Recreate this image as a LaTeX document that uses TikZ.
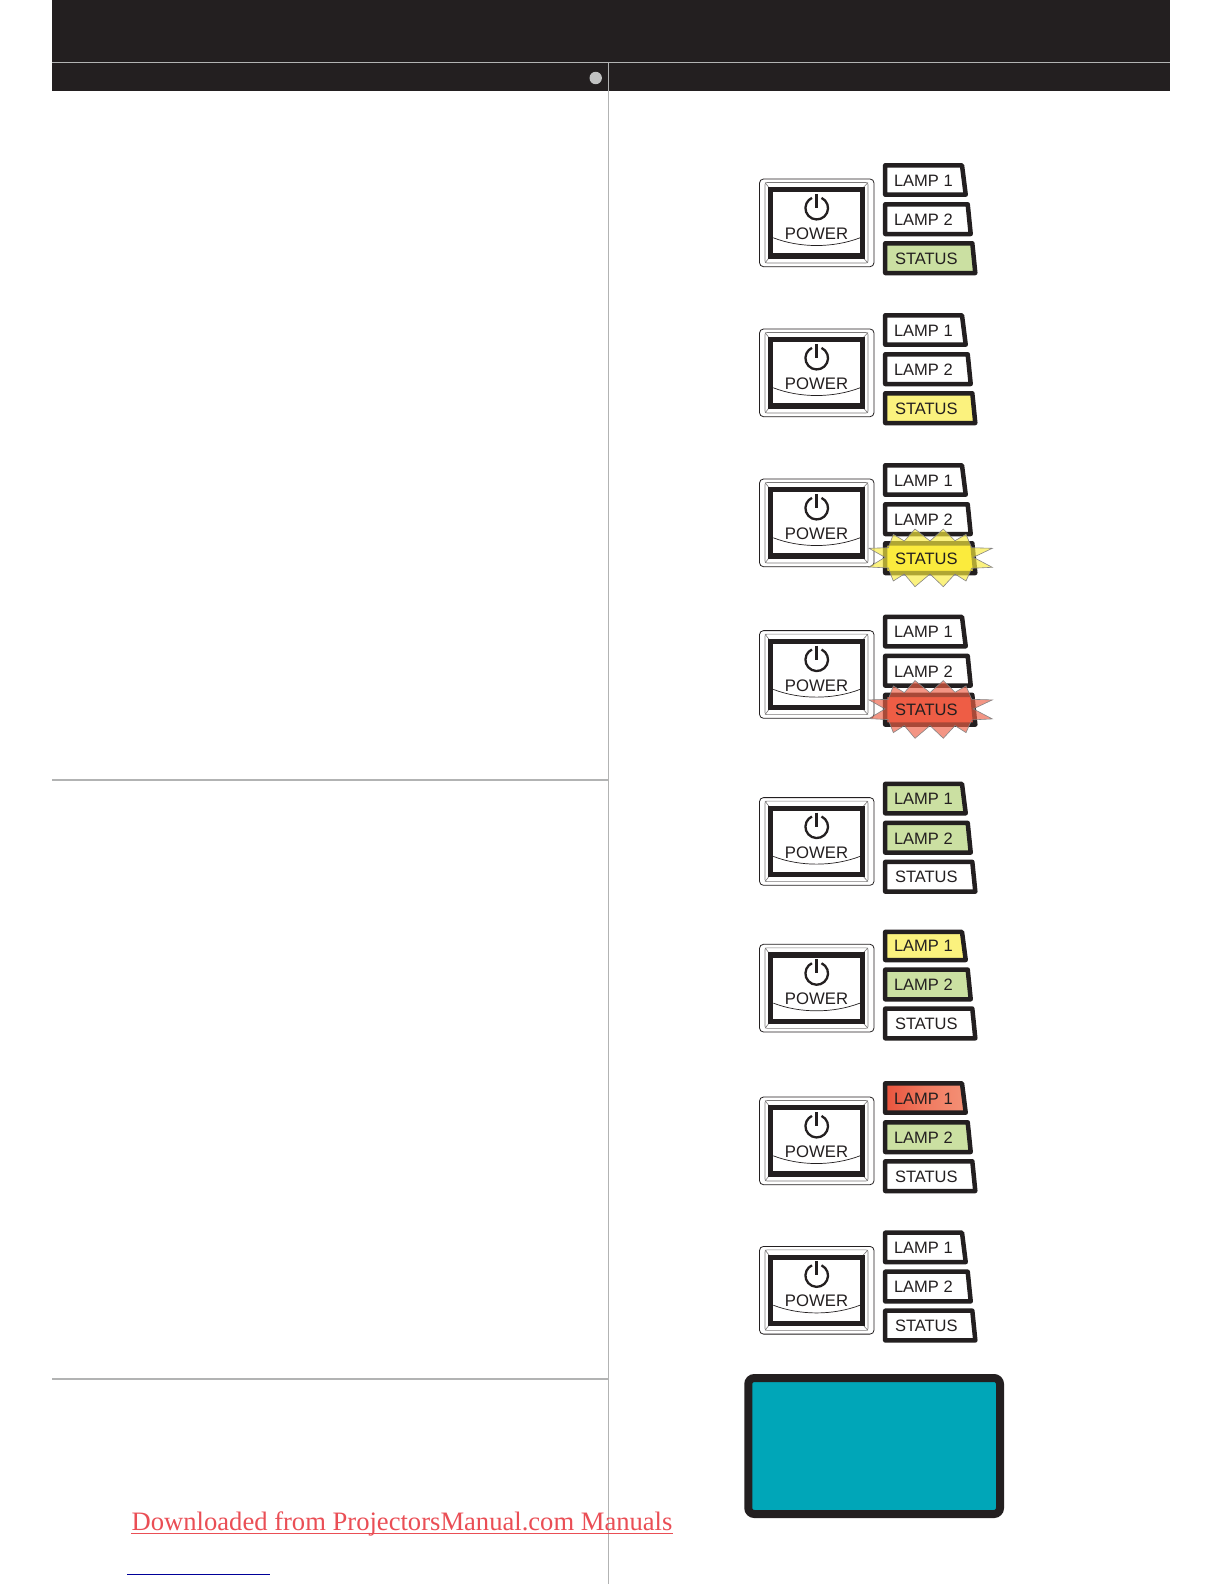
\documentclass[tikz,border=0pt]{standalone}
\usepackage{fontspec}
\setmainfont{Liberation Sans}
\newfontfamily\serifdl{Liberation Serif}
\definecolor{ink}{HTML}{231F20}
\definecolor{rulegray}{HTML}{B2B3B3}
\definecolor{lgreen}{HTML}{CBE0A2}
\definecolor{lyellow}{HTML}{FBF27E}
\definecolor{syellow}{HTML}{FFEA3C}
\definecolor{sred}{HTML}{EE5A46}
\definecolor{burstY}{HTML}{FAEC3E}
\definecolor{burstR}{HTML}{EE5F45}
\definecolor{tealfill}{HTML}{00A6B8}
\definecolor{dlred}{HTML}{EA4E55}
\definecolor{glowA}{HTML}{E9533D}
\definecolor{glowB}{HTML}{F49176}
\definecolor{glowC}{HTML}{F07A60}
\tikzset{
  lampbox/.style={draw=ink,line width=2.25pt,line join=round},
  lamptext/.style={anchor=west,inner sep=0pt,text=ink,font=\fontsize{8.25}{9}\selectfont},
  powertext/.style={anchor=center,inner sep=0pt,text=ink,font=\fontsize{8.35}{9}\selectfont},
  thinframe/.style={draw=ink,line width=0.4pt},
  fineframe/.style={draw=ink!60,line width=0.3pt},
  burstline/.style={draw=ink!55,line width=0.3pt,fill opacity=0.66},
  redglow/.style={left color=glowA,right color=glowB,middle color=glowC},
}
% args: row offset, row id, lamp1 paint, lamp2 paint, status paint, lamp1 top tweak
\newcommand\panelrow[6]{%
  \begin{scope}[shift={(0,#1)}]
    \draw[thinframe,rounded corners=2pt] (759.5,179) rectangle (874,266.7);
    \draw[fineframe,rounded corners=1pt] (765,182.5) rectangle (868,263);
    \draw[fineframe] (765,182.5) -- (770,189) (868,182.5) -- (862,189) (765,263) -- (770,256.5) (868,263) -- (862,256.5);
    \draw[draw=ink,line width=2.6pt,fill=white] (770.5,189.7) rectangle (862.5,256);
    \draw[ink,line width=1.15pt] (821.5,197.9) arc[start angle=-65,end angle=245,radius=11.3];
    \draw[ink,line width=1.35pt] (816.7,194) -- (816.7,208);
    \draw[ink,line width=0.35pt] (773.3,237.8) .. controls (800,248.1) and (833,248.1) .. (860,237.8);
    \node[powertext] (power#2) at (816.5,233.8) {POWER};
    \draw[lampbox,#3] (885.2,165.3+#6) -- (962,165.3+#6) -- (965.7,194.7) -- (885.2,194.7) -- cycle;
    \draw[lampbox,#4] (885.2,204.3) -- (967.7,204.3) -- (970.7,234) -- (885.2,234) -- cycle;
    \draw[lampbox,#5] (885.2,243.3) -- (972.3,243.3) -- (975.3,273) -- (885.2,273) -- cycle;
    \node[lamptext] (lampone#2) at (893.6,180.7) {LAMP 1};
    \node[lamptext] (lamptwo#2) at (893.6,219.7) {LAMP 2};
  \end{scope}}
\newcommand\statuslabel[2]{%
  \node[lamptext] (status#2) at (894.6,258.7+#1) {STATUS};}
\newcommand\burst[2]{%
  \begin{scope}[shift={(0,#1-300)}]
    \path[burstline,fill=#2]
      (869,548.3) -- (888.3,547.7) -- (893.3,534.3) -- (904.3,541) -- (915,529) -- (930,541)
      -- (943.3,529) -- (955,540.7) -- (966,534.3) -- (971.7,547.7) -- (992.3,548.3) -- (973.3,557.3)
      -- (992.3,567.3) -- (971.7,568.3) -- (966,581) -- (955,574) -- (943.3,586.7) -- (930,574)
      -- (915,586.7) -- (904.3,574) -- (893.3,581) -- (888.3,568) -- (869,567) -- (885,557.3) -- cycle;
  \end{scope}}
\begin{document}
\begin{tikzpicture}[x=0.5pt,y=-0.5pt]
  \useasboundingbox (0,0) rectangle (1224,1584);
  \fill[white] (0,0) rectangle (1224,1584);
  \fill[ink] (52,0) rectangle (1170,91);
  \draw[rulegray,line width=0.45pt] (52,62.3) -- (1170,62.3);
  \fill[rulegray!80!white] (595.7,78) circle [radius=6.2];
  \draw[rulegray,line width=0.5pt] (608.7,62) -- (608.7,1584);
  \draw[rulegray,line width=0.8pt] (52,779.8) -- (608.7,779.8);
  \draw[rulegray,line width=0.8pt] (52,1378.8) -- (608.7,1378.8);
  \panelrow{0}{a}{fill=white}{fill=white}{fill=lgreen}{0}
  \statuslabel{0}{a}
  \panelrow{150}{b}{fill=white}{fill=white}{fill=lyellow}{0}
  \statuslabel{150}{b}
  \panelrow{300}{c}{fill=white}{fill=white}{fill=syellow}{0}
  \burst{300}{burstY}
  \statuslabel{300}{c}
  \panelrow{451.6}{d}{fill=white}{fill=white}{fill=sred}{0}
  \burst{451.6}{burstR}
  \statuslabel{451.6}{d}
  \panelrow{618.6}{e}{fill=lgreen}{fill=lgreen}{fill=white}{0}
  \statuslabel{618.6}{e}
  \panelrow{765.3}{f}{fill=lyellow}{fill=lgreen}{fill=white}{1.3}
  \statuslabel{765.3}{f}
  \panelrow{918}{g}{redglow}{fill=lgreen}{fill=white}{0}
  \statuslabel{918}{g}
  \panelrow{1067.4}{h}{fill=white}{fill=white}{fill=white}{0}
  \statuslabel{1067.4}{h}
  \draw[draw=ink,line width=4pt,fill=tealfill,rounded corners=3pt] (748.3,1378) rectangle (1000,1514);
  \node[anchor=base west,inner sep=0pt,text=dlred,font=\serifdl\fontsize{13.3}{16}\selectfont] (dl) at (131.3,1530.5) {Downloaded from ProjectorsManual.com Manuals};
  \draw[dlred,line width=0.7pt] ([yshift=-1.6pt]dl.base west) -- ([yshift=-1.6pt]dl.base east);
  \coordinate (blueA) at (127,1574.5);
  \coordinate (blueB) at (270,1574.5);
  \draw[blue!60!black,line width=0.5pt] (blueA) -- (blueB);
\end{tikzpicture}
\end{document}
